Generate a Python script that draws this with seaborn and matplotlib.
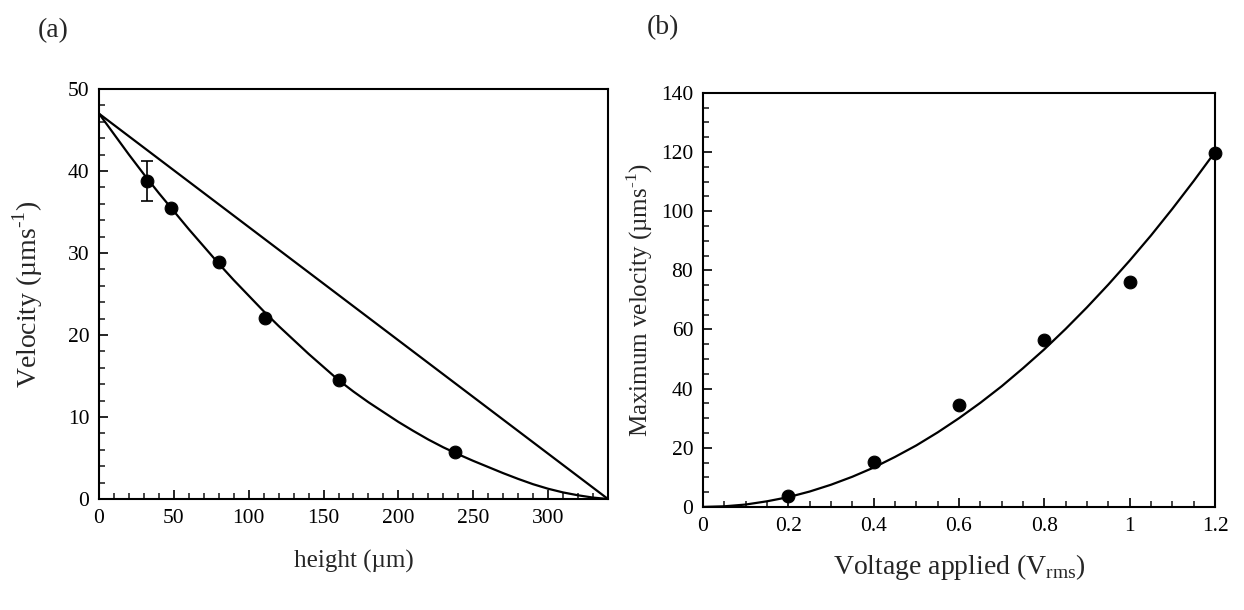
import numpy as np
import pandas as pd
import matplotlib
matplotlib.use("Agg")
import matplotlib.pyplot as plt
from matplotlib.ticker import MultipleLocator, FuncFormatter
import seaborn as sns

# panel (a): velocity vs height
height_pts = [32, 48, 80, 111, 160, 238]
vel_pts = [38.8, 35.5, 28.9, 22.1, 14.5, 5.7]
err_h = 32
err_v = 38.8
err_size = 2.4

# fitted curve
fit_h = [0, 10, 20, 30, 40, 50, 60, 70, 80, 90, 100, 110, 120, 130, 140, 150, 160, 170,
         180, 190, 200, 210, 220, 230, 240, 250, 260, 270, 280, 290, 300, 310, 320, 330, 340]
fit_v = [47.0, 44.5, 42.0, 39.6, 37.3, 35.1, 32.9, 30.8, 28.7, 26.7, 24.8, 22.9, 21.1, 19.4,
         17.7, 16.1, 14.5, 13.1, 11.8, 10.6, 9.4, 8.3, 7.25, 6.3, 5.45, 4.65, 3.9, 3.15, 2.45,
         1.8, 1.25, 0.8, 0.45, 0.17, 0.0]

# straight line
lin_h = [0, 340]
lin_v = [47.0, 0.0]

# panel (b): max velocity vs voltage
volt_pts = [0.2, 0.4, 0.6, 0.8, 1.0, 1.2]
vmax_pts = [3.8, 15.3, 34.6, 56.6, 76.2, 119.8]

fit_volt = [0.0, 0.05, 0.1, 0.15, 0.2, 0.25, 0.3, 0.35, 0.4, 0.45, 0.5, 0.55, 0.6, 0.65,
            0.7, 0.75, 0.8, 0.85, 0.9, 0.95, 1.0, 1.05, 1.1, 1.15, 1.2]
fit_vmax = [0.0, 0.2, 0.8, 1.9, 3.3, 5.2, 7.5, 10.2, 13.3, 16.9, 20.8, 25.2, 30.0, 35.2,
            40.8, 46.9, 53.3, 60.2, 67.5, 75.2, 83.3, 91.8, 100.8, 110.2, 120.0]

sns.set_style("ticks")
plt.rcParams['font.family'] = ['Liberation Serif', 'DejaVu Serif']
plt.rcParams['mathtext.fontset'] = 'custom'
plt.rcParams['mathtext.rm'] = 'Liberation Serif'
plt.rcParams['axes.linewidth'] = 1.5

fig = plt.figure(figsize=(12.44, 6.1), dpi=100)
ax1 = fig.add_axes([0.0796, 0.182, 0.4091, 0.672])
ax2 = fig.add_axes([0.5651, 0.169, 0.4116, 0.6787])

# (a)
sns.lineplot(x=lin_h, y=lin_v, ax=ax1, color='black', lw=1.6)
sns.lineplot(x=fit_h, y=fit_v, ax=ax1, color='black', lw=1.6)
ax1.errorbar([err_h], [err_v], yerr=[err_size], fmt='none', ecolor='black', elinewidth=1.2, capsize=4, capthick=1.2)
sns.scatterplot(x=height_pts, y=vel_pts, ax=ax1, color='black', s=85, edgecolor='black', zorder=5)
ax1.set_xlim(0, 340)
ax1.set_ylim(0, 50)
ax1.xaxis.set_major_locator(MultipleLocator(50))
ax1.xaxis.set_minor_locator(MultipleLocator(10))
ax1.yaxis.set_major_locator(MultipleLocator(10))
ax1.yaxis.set_minor_locator(MultipleLocator(2))
ax1.set_xlabel('height (µm)', fontsize=18, labelpad=16)
ax1.set_ylabel('Velocity (µms$^{\\text{-1}}$)', fontsize=20, labelpad=16)

# (b)
sns.lineplot(x=fit_volt, y=fit_vmax, ax=ax2, color='black', lw=1.6)
sns.scatterplot(x=volt_pts, y=vmax_pts, ax=ax2, color='black', s=85, edgecolor='black', zorder=5, clip_on=False)
ax2.set_xlim(0, 1.2)
ax2.set_ylim(0, 140)
ax2.xaxis.set_major_locator(MultipleLocator(0.2))
ax2.xaxis.set_minor_locator(MultipleLocator(0.05))
ax2.yaxis.set_major_locator(MultipleLocator(20))
ax2.yaxis.set_minor_locator(MultipleLocator(5))
ax2.xaxis.set_major_formatter(FuncFormatter(lambda v, p: '{:g}'.format(round(v, 2))))
ax2.set_xlabel('Voltage applied (V$_{\\rm rms}$)', fontsize=20, labelpad=12)
ax2.set_ylabel('Maximum velocity (µms$^{\\text{-1}}$)', fontsize=18, labelpad=4)

for ax in (ax1, ax2):
    for sp in ax.spines.values():
        sp.set_visible(True)
        sp.set_color('black')
        sp.set_linewidth(1.5)
    ax.tick_params(which='major', direction='in', length=6.5, width=1.2, labelsize=15.5, pad=7, colors='black')
    ax.tick_params(which='minor', direction='in', length=4, width=1.2)
    ax.tick_params(top=False, right=False, which='both')

fig.text(0.030, 0.950, '(a)', fontsize=20, va='center', ha='left')
fig.text(0.520, 0.955, '(b)', fontsize=20, va='center', ha='left')

fig.savefig('out.png', dpi=100, facecolor='white')
